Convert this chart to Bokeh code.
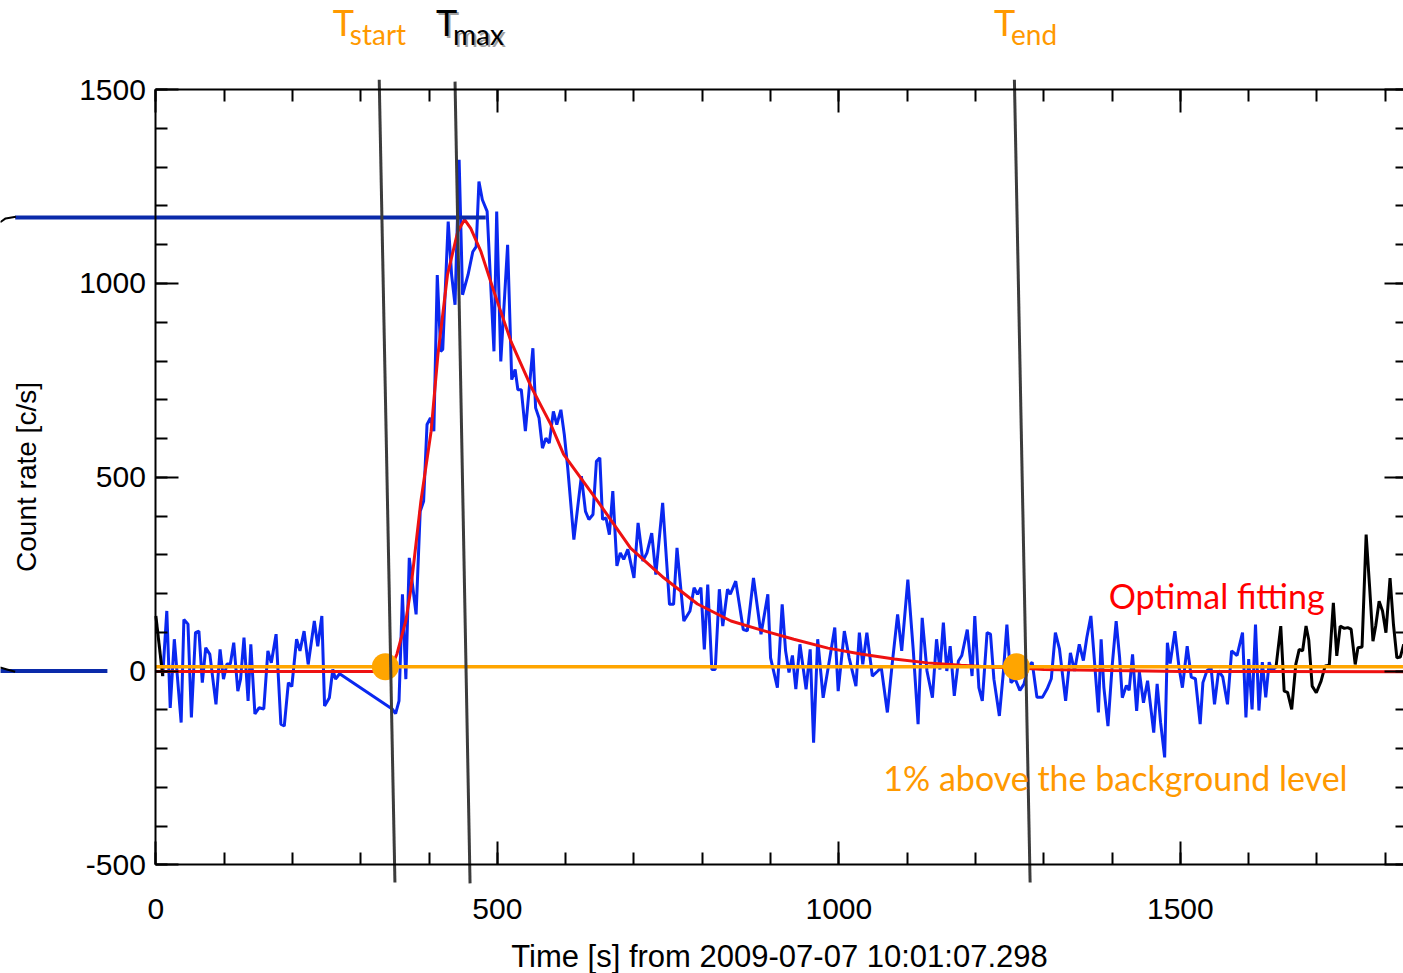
from bokeh.plotting import figure
from bokeh.models import (Range1d, LinearAxis, SingleIntervalTicker, Label, CustomJSTickFormatter)
from bokeh.embed import file_html
from bokeh.resources import INLINE

# ---------------- data ----------------
black_start_t = [0, 10]
black_start_c = [142, -13]

blue_t = [10, 16, 21, 27, 37, 41, 47, 52, 58, 63, 68, 73, 79, 88, 94, 99, 104, 109, 114, 120,
          124, 129, 135, 139, 145, 151, 158, 164, 169, 176, 183, 188, 194, 199, 206, 211, 217, 223, 232, 237,
          243, 247, 254, 259, 263, 269, 346, 351, 356, 361, 366, 371, 381, 387, 392, 397, 402, 407, 412, 417,
          420, 428, 433, 438, 444, 449, 457, 464, 469, 473, 478, 485, 495, 499, 505, 515, 521, 526, 530, 535,
          541, 552, 556, 561, 566, 571, 576, 582, 587, 593, 598, 603, 612, 623, 629, 634, 640, 645, 650, 654,
          659, 664, 669, 675, 680, 685, 691, 700, 706, 713, 719, 726, 732, 742, 752, 758, 763, 773, 782, 788,
          793, 798, 803, 808, 814, 819, 825, 830, 837, 841, 849, 860, 866, 875, 886, 896, 900, 910, 917, 922,
          927, 932, 937, 943, 952, 958, 963, 969, 977, 986, 994, 999, 1008, 1015, 1025, 1030, 1035, 1041, 1049, 1057,
          1062, 1071, 1078, 1086, 1092, 1101, 1109, 1116, 1122, 1129, 1137, 1143, 1148, 1153, 1158, 1163, 1169, 1175, 1180, 1188,
          1195, 1199, 1205, 1210, 1217, 1222, 1227, 1235, 1241, 1246, 1252, 1258, 1265, 1271, 1277, 1283, 1290, 1298, 1305, 1311,
          1317, 1323, 1332, 1339, 1345, 1352, 1358, 1363, 1369, 1373, 1380, 1384, 1388, 1394, 1400, 1406, 1411, 1415, 1421, 1425,
          1430, 1436, 1440, 1446, 1452, 1461, 1466, 1471, 1477, 1481, 1485, 1492, 1498, 1503, 1510, 1516, 1522, 1529, 1533, 1539,
          1545, 1550, 1556, 1562, 1569, 1575, 1583, 1591, 1596, 1600, 1605, 1610, 1615, 1620, 1625, 1630, 1634, 1640]
blue_c = [-13, 155, -95, 82, -133, 133, 121, -120, 99, 103, -30, 60, 43, -86, 56, -21, 18, 18, 73, -52,
          -21, 86, -77, 69, -111, -95, -98, 52, 21, 95, -137, -142, -30, -40, 82, 52, 103, 17, 129, 64,
          142, -90, -69, 4, -21, -7, -98, -110, -77, 198, -21, 292, 146, 412, 438, 636, 653, 619, 1022, 825,
          830, 1160, 1022, 945, 1319, 971, 1022, 1082, 1095, 1263, 1216, 1186, 825, 1186, 799, 1100, 752, 778, 726, 726,
          619, 833, 679, 653, 575, 601, 588, 670, 636, 674, 610, 524, 339, 503, 412, 391, 404, 541, 550, 391,
          395, 352, 464, 271, 305, 288, 314, 240, 382, 284, 305, 356, 249, 434, 172, 172, 318, 129, 155, 215,
          198, 215, 56, 223, 4, 4, 211, 116, 211, 198, 232, 107, 104, 240, 95, 198, 34, -43, 172, 52,
          -4, 40, -47, 69, -47, 56, -185, 82, -69, 26, 112, -52, 103, 34, -39, 99, 17, 99, -13, 0,
          10, -107, 17, 146, 52, 236, 52, -137, 137, 0, -69, 82, 4, 125, 0, 64, -64, 26, 40, 107,
          -13, 142, -43, -77, 99, 95, -21, -116, 0, 120, -30, -20, -50, -34, 10, 23, -68, -68, -46, -20,
          99, 57, -77, 47, 0, 69, 27, 86, 142, 53, -107, 82, -42, -142, 10, 129, 36, -69, -37, -50,
          43, -103, -3, -82, -25, -159, -33, -132, -223, 73, 19, 103, 10, -43, 64, -16, -20, -137, -30, 1,
          9, -86, 1, -15, -86, 52, 40, 99, -120, 31, -99, 120, -102, 23, -68, 23, 1, 10]

black_end_t = [1640, 1647, 1652, 1657, 1663, 1669, 1674, 1679, 1684, 1688, 1693, 1699, 1706, 1712, 1718, 1724, 1729, 1734,
               1740, 1745, 1750, 1756, 1760, 1766, 1772, 1777, 1782, 1786, 1791, 1796, 1801, 1807, 1812, 1817, 1822, 1827]
black_end_c = [10, 116, -52, -55, -99, 17, 56, 52, 116, 80, -39, -56, -26, 13, 15, 176, 39, 116,
               110, 112, 108, 17, 60, 62, 352, 219, 77, 116, 180, 155, 99, 240, 120, 34, 36, 69]

fit_t = [0, 336, 345, 353, 366, 373, 388, 403, 413, 427, 442, 452, 461, 476, 495, 520, 549, 578, 597,
         647, 695, 744, 793, 842, 888, 934, 984, 1032, 1081, 1130, 1179, 1227, 1266, 1300, 1400, 1500, 1827]
fit_c = [-1, -1, 10, 44, 130, 208, 438, 619, 817, 1023, 1134, 1165, 1142, 1082, 979, 850, 735, 637, 559,
         438, 317, 240, 173, 129, 105, 82, 59, 44, 31, 21, 15, 10, 8, 4, 1, -1, -2]

threshold_t = [0, 1827]
threshold_c = [11, 11]
threshold_points_t = [336, 1260]
threshold_points_c = [11, 11]

# tilted marker lines (start, max, end): top and bottom ends
marker_t_top = [327, 438, 1257]
marker_c_top = [1526, 1521, 1526]
marker_t_bot = [350, 460, 1280]
marker_c_bot = [-546, -548, -546]

peak_level_t = [-206, 483]
peak_level_c = [1170, 1170]
bg_level_t = [-228, -71]
bg_level_c = [0, 0]
brace_top_t = [-228, -220, -205]
brace_top_c = [1158, 1168, 1172]
brace_bot_t = [-228, -218, -206]
brace_bot_c = [9, 4, -2]

# label anchors (left edge, baseline)
tlabel_t = [259, 410, 1227]
tlabel_c = 1674
sub_t = [284, 435, 1252]
sub_c = 1643
sub_text = ["start", "max", "end"]
fit_label_pos = (1395, 194)
bg_label_pos = (1065, -275)

# axis box and visible window
X0, X1, Y0, Y1 = 0, 1832, -500, 1500
VIEW_X = (-227.5, 1826.7)
VIEW_Y = (-780.6, 1730.3)

# ---------------- figure ----------------
p = figure(width=1403, height=973, x_range=Range1d(*VIEW_X), y_range=Range1d(*VIEW_Y),
           output_backend="svg", toolbar_location=None,
           min_border_left=0, min_border_right=0, min_border_top=0, min_border_bottom=0,
           x_axis_label="Time [s] from 2009-07-07 10:01:07.298", y_axis_label="Count rate [c/s]")
p.outline_line_color = None
p.grid.visible = False
p.background_fill_color = "white"
p.border_fill_color = "white"

AX_FONT = "Liberation Sans"


def style_axis(ax, show_labels, line=True, maj=23, mnr=12):
    ax.ticker = SingleIntervalTicker(interval=500, num_minor_ticks=5)
    ax.major_tick_in = maj
    ax.major_tick_out = 0
    ax.minor_tick_in = mnr
    ax.minor_tick_out = 0
    ax.major_tick_line_width = 2
    ax.minor_tick_line_width = 2
    ax.major_tick_line_color = "black"
    ax.minor_tick_line_color = "black"
    ax.axis_line_width = 2
    ax.axis_line_color = "black" if line else None
    if show_labels:
        ax.major_label_text_font = AX_FONT
        ax.major_label_text_font_size = "30px"
        ax.major_label_text_color = "black"
    else:
        ax.formatter = CustomJSTickFormatter(code="return ''")
        ax.major_label_standoff = 0


xa = p.xaxis[0]
style_axis(xa, True)
xa.fixed_location = Y0
xa.bounds = (X0, X1)
xa.major_label_standoff = 34
xa.axis_label_text_font = AX_FONT
xa.axis_label_text_font_size = "31px"
xa.axis_label_text_font_style = "normal"
xa.axis_label_text_color = "black"
xa.axis_label_standoff = 17

ya = p.yaxis[0]
style_axis(ya, True)
ya.fixed_location = X0
ya.bounds = (Y0, Y1)
ya.major_label_standoff = 10
ya.major_label_orientation = "horizontal"
ya.major_label_overrides = {-500: "-500"}
ya.axis_label_text_font = AX_FONT
ya.axis_label_text_font_size = "28px"
ya.axis_label_text_font_style = "normal"
ya.axis_label_text_color = "black"
ya.axis_label_standoff = 34

top = LinearAxis()
style_axis(top, False)
top.fixed_location = Y1
top.bounds = (X0, X1)
p.add_layout(top, "above")
right = LinearAxis()
style_axis(right, False)
right.fixed_location = X1
right.bounds = (Y0, Y1)
p.add_layout(right, "right")

# ---------------- data lines ----------------
p.line(blue_t, blue_c, line_color="#0A28F0", line_width=3)
p.line(black_start_t, black_start_c, line_color="black", line_width=3)
p.line(black_end_t, black_end_c, line_color="black", line_width=3)
p.line(fit_t, fit_c, line_color="#EE1111", line_width=3)
p.line(threshold_t, threshold_c, line_color="#FFA500", line_width=3.5)
p.scatter(threshold_points_t, threshold_points_c, size=27, color="#FFA500", line_color=None)

# ---------------- annotation lines ----------------
p.line(peak_level_t, peak_level_c, line_color="#0A2AAA", line_width=4)
p.line(bg_level_t, bg_level_c, line_color="#0A2AAA", line_width=4)
p.line(brace_top_t, brace_top_c, line_color="black", line_width=2)
p.line(brace_bot_t, brace_bot_c, line_color="black", line_width=2)
p.segment(marker_t_top, marker_c_top, marker_t_bot, marker_c_bot, line_color="#3C3C3C", line_width=3)

LAB_FONT = "Lato"
ORANGE_TXT = "#FF9900"


def lab(x, y, text, color, size, dx=0, dy=0):
    p.add_layout(Label(x=x, y=y, x_offset=dx, y_offset=dy, text=text, text_color=color,
                       text_font=LAB_FONT, text_font_size=size, text_baseline="alphabetic"))


tcolors = [ORANGE_TXT, "black", ORANGE_TXT]
for i in range(3):
    if tcolors[i] == "black":
        lab(tlabel_t[i], tlabel_c, "T", "#A0A0A0", "36px", 2, -2)
        lab(sub_t[i], sub_c, sub_text[i], "#A0A0A0", "28px", 2, -2)
    lab(tlabel_t[i], tlabel_c, "T", tcolors[i], "36px")
    lab(sub_t[i], sub_c, sub_text[i], tcolors[i], "28px")

lab(fit_label_pos[0], fit_label_pos[1], "Optimal fitting", "#FF0000", "34px")
lab(bg_label_pos[0], bg_label_pos[1], "1% above the background level", ORANGE_TXT, "34px")

open("out.html", "w").write(file_html(p, INLINE))
